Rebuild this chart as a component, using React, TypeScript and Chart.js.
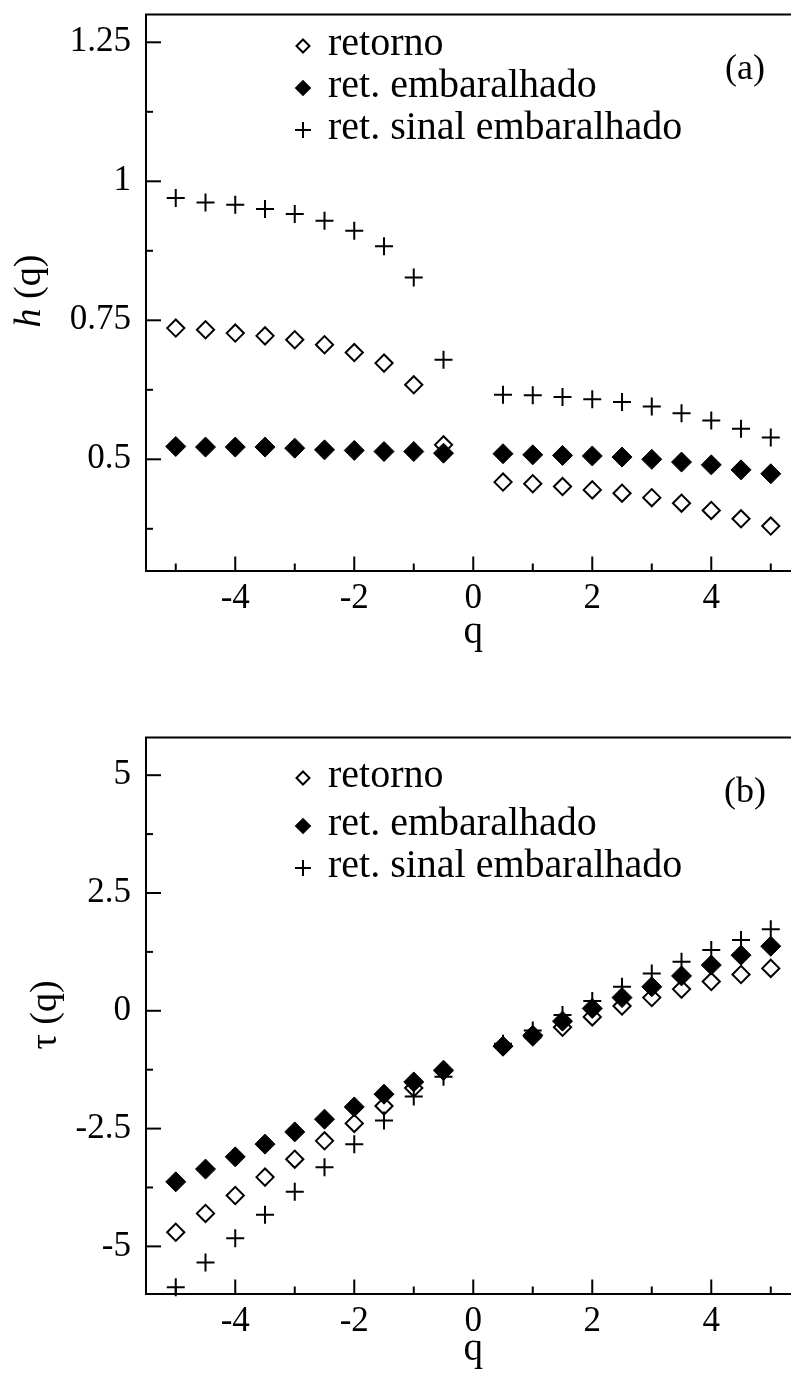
import React, { useEffect, useRef } from 'react';
import { Chart, registerables } from 'chart.js';

Chart.register(...registerables);

// ---------- data ----------
const qValues = [-5, -4.5, -4, -3.5, -3, -2.5, -2, -1.5, -1, -0.5, 0.5, 1, 1.5, 2, 2.5, 3, 3.5, 4, 4.5, 5];

const hRetorno = [0.736, 0.733, 0.727, 0.722, 0.715, 0.706, 0.692, 0.673, 0.634, 0.526, 0.459, 0.456, 0.451, 0.445, 0.439, 0.431, 0.421, 0.408, 0.393, 0.380];
const hEmbaralhado = [0.523, 0.522, 0.522, 0.522, 0.520, 0.517, 0.516, 0.514, 0.514, 0.511, 0.510, 0.508, 0.507, 0.506, 0.504, 0.500, 0.495, 0.490, 0.481, 0.474];
const hSinal = [0.970, 0.962, 0.958, 0.950, 0.941, 0.929, 0.911, 0.883, 0.827, 0.679, 0.616, 0.615, 0.612, 0.608, 0.603, 0.595, 0.583, 0.570, 0.555, 0.539];

const tauRetorno = [-4.70, -4.30, -3.92, -3.53, -3.15, -2.76, -2.39, -2.02, -1.64, -1.28, -0.76, -0.55, -0.35, -0.13, 0.10, 0.28, 0.46, 0.62, 0.77, 0.90];
const tauEmbaralhado = [-3.63, -3.36, -3.10, -2.83, -2.57, -2.30, -2.04, -1.77, -1.51, -1.26, -0.75, -0.52, -0.22, 0.05, 0.28, 0.51, 0.74, 0.97, 1.18, 1.37];
const tauSinal = [-5.87, -5.34, -4.83, -4.33, -3.84, -3.32, -2.83, -2.33, -1.82, -1.40, -0.70, -0.42, -0.09, 0.21, 0.51, 0.79, 1.04, 1.29, 1.50, 1.73];

const xMajorTicks = [-4, -2, 0, 2, 4];
const xMinorTicks = [-5, -3, -1, 1, 3, 5];
const hMajorTicks = [0.5, 0.75, 1, 1.25];
const hMinorTicks = [0.375, 0.625, 0.875, 1.125];
const tauMajorTicks = [-5, -2.5, 0, 2.5, 5];
const tauMinorTicks = [-3.75, -1.25, 1.25, 3.75];

const legendLabels = ['retorno', 'ret. embaralhado', 'ret. sinal embaralhado'];
const xTitle = 'q';

const SERIF = '"Liberation Serif", "Times New Roman", Times, serif';
// canvas is a little wider than the page; the plot runs off the right edge as in the figure
const CANVAS_W = 802;
const CANVAS_H = 655;

interface PanelSpec {
  yMin: number;
  yMax: number;
  yMajor: number[];
  yMinor: number[];
  open: number[];
  filled: number[];
  cross: number[];
  legendY: number[];
  panelLabel: string;
  titleParts: { text: string; italic: boolean }[];
  titleX: number;
  titleY: number;
  qBaseline: number;
}

const panelA: PanelSpec = {
  yMin: 0.3,
  yMax: 1.3,
  yMajor: hMajorTicks,
  yMinor: hMinorTicks,
  open: hRetorno,
  filled: hEmbaralhado,
  cross: hSinal,
  legendY: [46, 88, 130],
  panelLabel: '(a)',
  titleParts: [
    { text: 'h', italic: true },
    { text: ' (q)', italic: false },
  ],
  titleX: 40,
  titleY: 291,
  qBaseline: 643,
};

const panelB: PanelSpec = {
  yMin: -6,
  yMax: 5.8,
  yMajor: tauMajorTicks,
  yMinor: tauMinorTicks,
  open: tauRetorno,
  filled: tauEmbaralhado,
  cross: tauSinal,
  legendY: [55, 103, 145],
  panelLabel: '(b)',
  titleParts: [{ text: 'τ (q)', italic: false }],
  titleX: 56,
  titleY: 292,
  qBaseline: 637,
};

function makePoints(ys: number[]) {
  return qValues.map((q, i) => ({ x: q, y: ys[i] }));
}

function drawMarker(ctx: CanvasRenderingContext2D, kind: string, x: number, y: number, r: number) {
  ctx.save();
  ctx.lineWidth = 2;
  ctx.strokeStyle = '#000';
  ctx.beginPath();
  if (kind === 'cross') {
    ctx.moveTo(x - r, y);
    ctx.lineTo(x + r, y);
    ctx.moveTo(x, y - r);
    ctx.lineTo(x, y + r);
    ctx.stroke();
  } else {
    ctx.moveTo(x - r, y);
    ctx.lineTo(x, y - r);
    ctx.lineTo(x + r, y);
    ctx.lineTo(x, y + r);
    ctx.closePath();
    if (kind === 'filled') {
      ctx.fillStyle = '#000';
      ctx.fill();
    } else {
      ctx.fillStyle = '#fff';
      ctx.fill();
      ctx.stroke();
    }
  }
  ctx.restore();
}

function makeDecorPlugin(spec: PanelSpec) {
  return {
    id: 'panelDecor',
    afterDraw(chart: any) {
      const ctx: CanvasRenderingContext2D = chart.ctx;
      const { left, right, top, bottom } = chart.chartArea;
      const xs = chart.scales.x;
      const ys = chart.scales.y;
      ctx.save();
      ctx.strokeStyle = '#000';
      ctx.lineWidth = 2;
      // top frame line
      ctx.beginPath();
      ctx.moveTo(left - 1, top);
      ctx.lineTo(right, top);
      ctx.stroke();
      // inward ticks
      const tick = (x1: number, y1: number, x2: number, y2: number) => {
        ctx.beginPath();
        ctx.moveTo(x1, y1);
        ctx.lineTo(x2, y2);
        ctx.stroke();
      };
      for (const v of spec.yMajor) {
        const py = ys.getPixelForValue(v);
        tick(left, py, left + 15, py);
      }
      for (const v of spec.yMinor) {
        const py = ys.getPixelForValue(v);
        tick(left, py, left + 7, py);
      }
      for (const v of xMajorTicks) {
        const px = xs.getPixelForValue(v);
        tick(px, bottom, px, bottom - 14);
      }
      for (const v of xMinorTicks) {
        const px = xs.getPixelForValue(v);
        tick(px, bottom, px, bottom - 7);
      }

      // legend
      const kinds = ['open', 'filled', 'cross'];
      const sizes = [6.5, 8.3, 8];
      ctx.font = `40px ${SERIF}`;
      ctx.textAlign = 'left';
      ctx.textBaseline = 'alphabetic';
      for (let i = 0; i < 3; i++) {
        const ly = spec.legendY[i];
        drawMarker(ctx, kinds[i], 303, ly, sizes[i]);
        ctx.fillStyle = '#000';
        ctx.fillText(legendLabels[i], 328, ly + 9);
      }

      // panel label
      ctx.fillStyle = '#000';
      ctx.font = `36px ${SERIF}`;
      ctx.textAlign = 'center';
      ctx.fillText(spec.panelLabel, 745, 79);

      // x title
      ctx.font = `39px ${SERIF}`;
      ctx.textAlign = 'center';
      ctx.fillText(xTitle, xs.getPixelForValue(0), spec.qBaseline);

      // y title (rotated)
      ctx.save();
      ctx.translate(spec.titleX, spec.titleY);
      ctx.rotate(-Math.PI / 2);
      ctx.textAlign = 'left';
      let total = 0;
      const widths: number[] = [];
      for (const p of spec.titleParts) {
        ctx.font = `${p.italic ? 'italic ' : ''}38px ${SERIF}`;
        const w = ctx.measureText(p.text).width;
        widths.push(w);
        total += w;
      }
      let cx = -total / 2;
      spec.titleParts.forEach((p, i) => {
        ctx.font = `${p.italic ? 'italic ' : ''}38px ${SERIF}`;
        ctx.fillText(p.text, cx, 0);
        cx += widths[i];
      });
      ctx.restore();

      ctx.restore();
    },
  };
}

function Panel({ spec, top }: { spec: PanelSpec; top: number }) {
  const ref = useRef<HTMLCanvasElement>(null);
  useEffect(() => {
    if (!ref.current) return;
    const tickFont = { family: SERIF, size: 35 };
    const chart = new Chart(ref.current, {
      type: 'scatter',
      data: {
        datasets: [
          {
            label: legendLabels[1],
            data: makePoints(spec.filled),
            pointStyle: 'rectRot',
            pointRadius: 10,
            pointBorderWidth: 1,
            pointBackgroundColor: '#000',
            pointBorderColor: '#000',
            order: 0,
            clip: false,
          } as any,
          {
            label: legendLabels[2],
            data: makePoints(spec.cross),
            pointStyle: 'cross',
            pointRadius: 9,
            pointBorderWidth: 2,
            pointBackgroundColor: '#000',
            pointBorderColor: '#000',
            order: 1,
            clip: false,
          } as any,
          {
            label: legendLabels[0],
            data: makePoints(spec.open),
            pointStyle: 'rectRot',
            pointRadius: 8.6,
            pointBorderWidth: 2,
            pointBackgroundColor: '#fff',
            pointBorderColor: '#000',
            order: 2,
            clip: false,
          } as any,
        ],
      },
      options: {
        responsive: false,
        animation: false,
        devicePixelRatio: 1,
        events: [],
        layout: { padding: { top: 14.5, left: 0, right: 0, bottom: 24.5 } },
        plugins: { legend: { display: false }, tooltip: { enabled: false }, title: { display: false } },
        scales: {
          x: {
            type: 'linear',
            min: -5.5,
            max: 5.34,
            afterBuildTicks: (s: any) => {
              s.ticks = xMajorTicks.map((v) => ({ value: v }));
            },
            afterFit: (s: any) => {
              s.height = 60;
              s.paddingLeft = 0;
              s.paddingRight = 0;
              s.paddingTop = 0;
              s.paddingBottom = 0;
            },
            grid: { display: false, drawTicks: false },
            border: { display: true, color: '#000', width: 2 },
            ticks: {
              padding: 7,
              font: tickFont,
              color: '#000',
              autoSkip: false,
              maxRotation: 0,
              callback: (v: any) => String(v),
            },
          },
          y: {
            type: 'linear',
            min: spec.yMin,
            max: spec.yMax,
            afterBuildTicks: (s: any) => {
              s.ticks = spec.yMajor.map((v) => ({ value: v }));
            },
            afterFit: (s: any) => {
              s.width = 146;
              s.paddingLeft = 0;
              s.paddingRight = 0;
              s.paddingTop = 0;
              s.paddingBottom = 0;
            },
            grid: { display: false, drawTicks: false },
            border: { display: true, color: '#000', width: 2 },
            ticks: {
              padding: 15,
              font: tickFont,
              color: '#000',
              autoSkip: false,
              callback: (v: any) => String(v),
            },
          },
        },
      } as any,
      plugins: [makeDecorPlugin(spec)],
    });
    return () => chart.destroy();
  }, [spec]);
  return (
    <canvas
      ref={ref}
      width={CANVAS_W}
      height={CANVAS_H}
      style={{ position: 'absolute', left: 0, top, width: CANVAS_W, height: CANVAS_H, display: 'block' }}
    />
  );
}

export default function App() {
  return (
    <div style={{ position: 'fixed', left: 0, top: 0, width: 791, height: 1378, background: '#fff', overflow: 'hidden' }}>
      <Panel spec={panelA} top={0} />
      <Panel spec={panelB} top={723} />
    </div>
  );
}
